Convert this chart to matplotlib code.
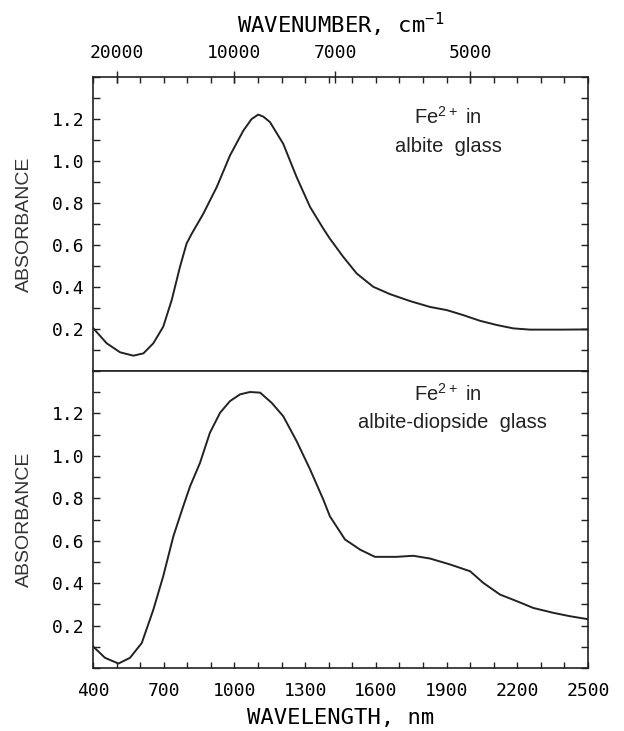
import numpy as np
import matplotlib
matplotlib.use('Agg')
import matplotlib.pyplot as plt
from matplotlib.ticker import FixedLocator, MultipleLocator, FormatStrFormatter

# wavelength (nm) / absorbance
albite_nm = [400, 458, 515, 571, 614, 656, 698, 734, 769, 797, 819, 868, 925, 981,
             1038, 1073, 1101, 1123, 1151, 1207, 1264, 1321, 1377, 1405, 1462, 1519,
             1589, 1660, 1745, 1830, 1901, 1971, 2042, 2113, 2183, 2254, 2395, 2500]
albite_abs = [0.205, 0.132, 0.089, 0.073, 0.084, 0.132, 0.211, 0.338, 0.496, 0.607,
              0.654, 0.749, 0.876, 1.026, 1.145, 1.200, 1.221, 1.211, 1.185, 1.082,
              0.923, 0.781, 0.678, 0.630, 0.543, 0.464, 0.401, 0.366, 0.333, 0.305,
              0.290, 0.266, 0.239, 0.219, 0.203, 0.197, 0.197, 0.198]

diop_nm = [400, 451, 508, 557, 607, 656, 698, 741, 783, 812, 854, 896, 939, 981, 1024,
           1066, 1109, 1158, 1207, 1264, 1321, 1377, 1405, 1469, 1533, 1596, 1688, 1759,
           1830, 1915, 2000, 2056, 2127, 2198, 2268, 2353, 2424, 2500]
diop_abs = [0.102, 0.048, 0.021, 0.048, 0.118, 0.275, 0.433, 0.621, 0.763, 0.857, 0.967,
            1.109, 1.203, 1.258, 1.290, 1.301, 1.298, 1.250, 1.187, 1.069, 0.936, 0.794,
            0.715, 0.606, 0.558, 0.524, 0.524, 0.529, 0.516, 0.488, 0.456, 0.401, 0.346,
            0.315, 0.283, 0.260, 0.244, 0.230]

wl_ticks = [400, 700, 1000, 1300, 1600, 1900, 2200, 2500]
wn_ticks = [20000, 10000, 7000, 5000]
abs_ticks = [0.2, 0.4, 0.6, 0.8, 1.0, 1.2]

plt.rcParams['mathtext.default'] = 'regular'
mono = 'DejaVu Sans Mono'
sans = 'Liberation Sans'
ink = '#222222'

fig = plt.figure(figsize=(6.24, 7.31), dpi=100)
W, H = 624, 731
ax1 = fig.add_axes([93 / W, (H - 371) / H, 495 / W, (371 - 77) / H])
ax2 = fig.add_axes([93 / W, (H - 668) / H, 495 / W, (668 - 371) / H])

ax1.plot(albite_nm, albite_abs, color=ink, lw=1.4)
ax2.plot(diop_nm, diop_abs, color=ink, lw=1.4)

for ax in (ax1, ax2):
    ax.set_xlim(400, 2500)
    ax.set_ylim(0, 1.4)
    for s in ax.spines.values():
        s.set_linewidth(1.2)
        s.set_color(ink)
    ax.yaxis.set_major_locator(FixedLocator(abs_ticks))
    ax.yaxis.set_minor_locator(MultipleLocator(0.1))
    ax.yaxis.set_major_formatter(FormatStrFormatter('%.1f'))
    ax.tick_params(axis='y', which='both', direction='in', left=True, right=True,
                   length=5, width=1, color=ink, labelsize=13, pad=6)
    for lab in ax.get_yticklabels():
        lab.set_family(mono)
    ax.set_ylabel('ABSORBANCE', family=sans, fontsize=14, color='#333333', labelpad=14)
    ax.xaxis.set_minor_locator(MultipleLocator(100))

# bottom panel: wavelength axis
ax2.xaxis.set_major_locator(FixedLocator(wl_ticks))
ax2.tick_params(axis='x', which='both', direction='in', bottom=True, top=False,
                length=4, width=1, color=ink, labelsize=13, pad=10)
for lab in ax2.get_xticklabels():
    lab.set_family(mono)
ax2.set_xlabel('WAVELENGTH, nm', family=mono, fontsize=16, labelpad=6)

# top panel: wavenumber axis on top, 100 nm minor ticks
ax1.xaxis.set_major_locator(FixedLocator([]))
ax1.tick_params(axis='x', which='both', direction='in', bottom=False, top=True,
                labelbottom=False, length=4, width=1, color=ink)

sec = ax1.secondary_xaxis('top', functions=(lambda x: 1e7 / np.maximum(x, 1.0),
                                            lambda x: 1e7 / np.maximum(x, 1.0)))
sec.xaxis.set_major_locator(FixedLocator(wn_ticks))
sec.xaxis.set_minor_locator(FixedLocator([]))
sec.xaxis.set_major_formatter(FormatStrFormatter('%d'))
sec.tick_params(axis='x', direction='inout', length=9, width=1, color=ink,
                labelsize=13, pad=6)
sec.spines['top'].set_visible(False)
for lab in sec.get_xticklabels():
    lab.set_family(mono)
sec.set_xlabel('WAVENUMBER, cm$^{-1}$', family=mono, fontsize=16, labelpad=8)

# annotations
ax1.text(1906, 1.21, 'Fe$^{2+}$ in', family=sans, fontsize=14.5, ha='center', va='center', color=ink)
ax1.text(1906, 1.07, 'albite  glass', family=sans, fontsize=14.5, ha='center', va='center', color=ink)
ax2.text(1906, 1.29, 'Fe$^{2+}$ in', family=sans, fontsize=14.5, ha='center', va='center', color=ink)
ax2.text(1923, 1.155, 'albite-diopside  glass', family=sans, fontsize=14.5, ha='center', va='center', color=ink)

fig.savefig('out.png', dpi=100)
